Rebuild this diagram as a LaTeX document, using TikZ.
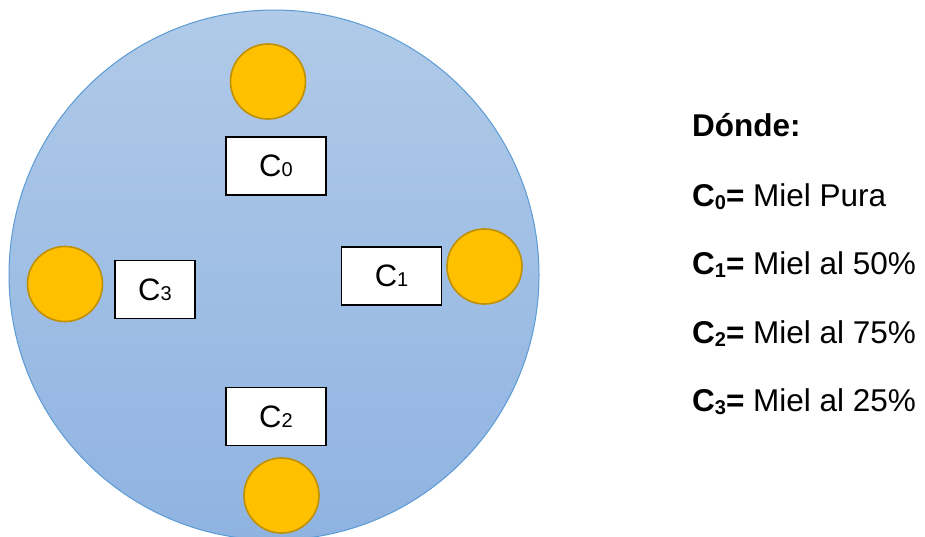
\documentclass[tikz,border=0pt]{standalone}
\usepackage{fontspec}
\setmainfont{Liberation Sans}
\definecolor{plateTop}{HTML}{B0CAE8}
\definecolor{plateBot}{HTML}{8FB3E1}
\definecolor{plateEdge}{HTML}{5B9BD5}
\definecolor{honey}{HTML}{FFC000}
\definecolor{honeyEdge}{HTML}{BF9000}
\newcommand{\boxlbl}[1]{C{\fontsize{20}{20}\selectfont #1}}
\newcommand{\keylbl}[1]{\textbf{C\raisebox{-3pt}{\fontsize{20}{20}\selectfont #1}=}}
\begin{document}
\begin{tikzpicture}[x=1pt,y=-1pt,
  plate/.style={circle, draw=plateEdge, line width=1pt, top color=plateTop, bottom color=plateBot, minimum size=530pt, inner sep=0pt},
  drop/.style={circle, draw=honeyEdge, fill=honey, line width=1.6pt, minimum size=75pt, inner sep=0pt},
  tag/.style={draw=black, fill=white, line width=1.6pt, minimum width=100pt, minimum height=58pt, inner sep=0pt, font=\fontsize{31}{31}\selectfont},
  key/.style={anchor=base west, inner sep=0pt, font=\fontsize{31.5}{31.5}\selectfont}]
\useasboundingbox (0,0) rectangle (925,536);
% petri dish
\node[plate] (dish) at (274,275) {};
% honey samples
\node[drop] (d0) at (268,81.5) {};
\node[drop] (d1) at (484.5,266.5) {};
\node[drop] (d2) at (281.5,495.5) {};
\node[drop] (d3) at (65,284) {};
% sample labels
\node[tag] (c0) at (276,166) {\boxlbl{0}};
\node[tag] (c1) at (391.5,276) {\boxlbl{1}};
\node[tag] (c2) at (276,416.5) {\boxlbl{2}};
\node[tag, minimum width=80pt] (c3) at (155,289.5) {\boxlbl{3}};
% legend
\node[key] (k) at (692,136.7) {\textbf{Dónde:}};
\node[key] (k0) at (692,206) {\keylbl{0} Miel Pura};
\node[key] (k1) at (692,274.5) {\keylbl{1} Miel al 50\%};
\node[key] (k2) at (692,343) {\keylbl{2} Miel al 75\%};
\node[key] (k3) at (692,411.5) {\keylbl{3} Miel al 25\%};
\end{tikzpicture}
\end{document}
